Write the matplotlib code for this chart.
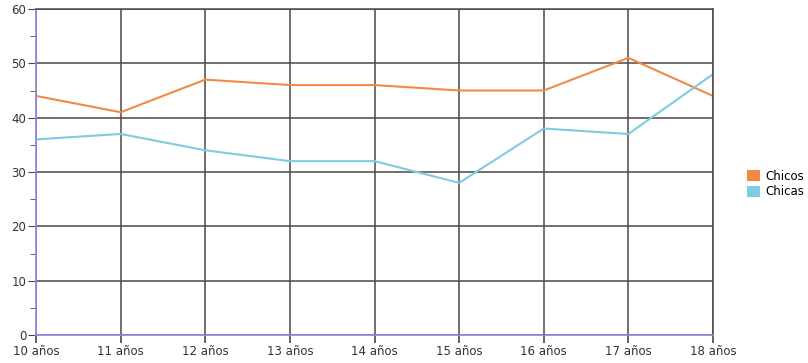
import matplotlib
matplotlib.use("Agg")
import matplotlib.pyplot as plt
from matplotlib.patches import Patch

categories = ["10 años", "11 años", "12 años", "13 años", "14 años", "15 años", "16 años", "17 años", "18 años"]
chicos = [44, 41, 47, 46, 46, 45, 45, 51, 44]
chicas = [36, 37, 34, 32, 32, 28, 38, 37, 48]
y_ticks = [0, 10, 20, 30, 40, 50, 60]

c_chicos = "#f08a45"
c_chicas = "#7fcbe0"
grid_c = "#4f4646"

fig = plt.figure(figsize=(8.08, 3.63), dpi=100)
ax = fig.add_axes([36/808, 28/363, (713-36)/808, (335-9)/363])
x = list(range(len(categories)))

for v in x:
    ax.axvline(v, color=grid_c, lw=1.1, zorder=1)
for v in y_ticks:
    ax.axhline(v, color=grid_c, lw=1.1, zorder=1)

ax.plot(x, chicos, color=c_chicos, lw=1.5, zorder=3)
ax.plot(x, chicas, color=c_chicas, lw=1.5, zorder=3)

ax.set_xlim(0, len(categories) - 1)
ax.set_ylim(0, 60)
ax.set_xticks(x)
ax.set_xticklabels(categories, fontsize=8.5, color="#333333")
ax.set_yticks(y_ticks)
ax.set_yticklabels([str(v) for v in y_ticks], fontsize=8.5, color="#333333")
ax.set_yticks([5, 15, 25, 35, 45, 55], minor=True)
ax.tick_params(axis="y", which="major", length=6, color=grid_c, pad=1)
ax.tick_params(axis="y", which="minor", length=4, color=grid_c)
ax.tick_params(axis="x", which="major", length=6, color=grid_c, pad=1, width=1.2)

for s in ["top", "right"]:
    ax.spines[s].set_color(grid_c)
    ax.spines[s].set_linewidth(1.1)
ax.spines["left"].set_color("#8a8ad8")
ax.spines["bottom"].set_color("#8a8ad8")
ax.spines["left"].set_linewidth(1.2)
ax.spines["bottom"].set_linewidth(1.2)
for s in ax.spines.values():
    s.set_zorder(4)

handles = [Patch(facecolor=c_chicos, edgecolor="none", label="Chicos"),
           Patch(facecolor=c_chicas, edgecolor="none", label="Chicas")]
fig.legend(handles=handles, loc="center left", bbox_to_anchor=(741/808, 1 - 184/363),
           frameon=False, fontsize=8.5, handlelength=1.1, handleheight=1.1,
           handletextpad=0.5, labelspacing=0.25, borderpad=0)

fig.savefig("out.png", dpi=100)
